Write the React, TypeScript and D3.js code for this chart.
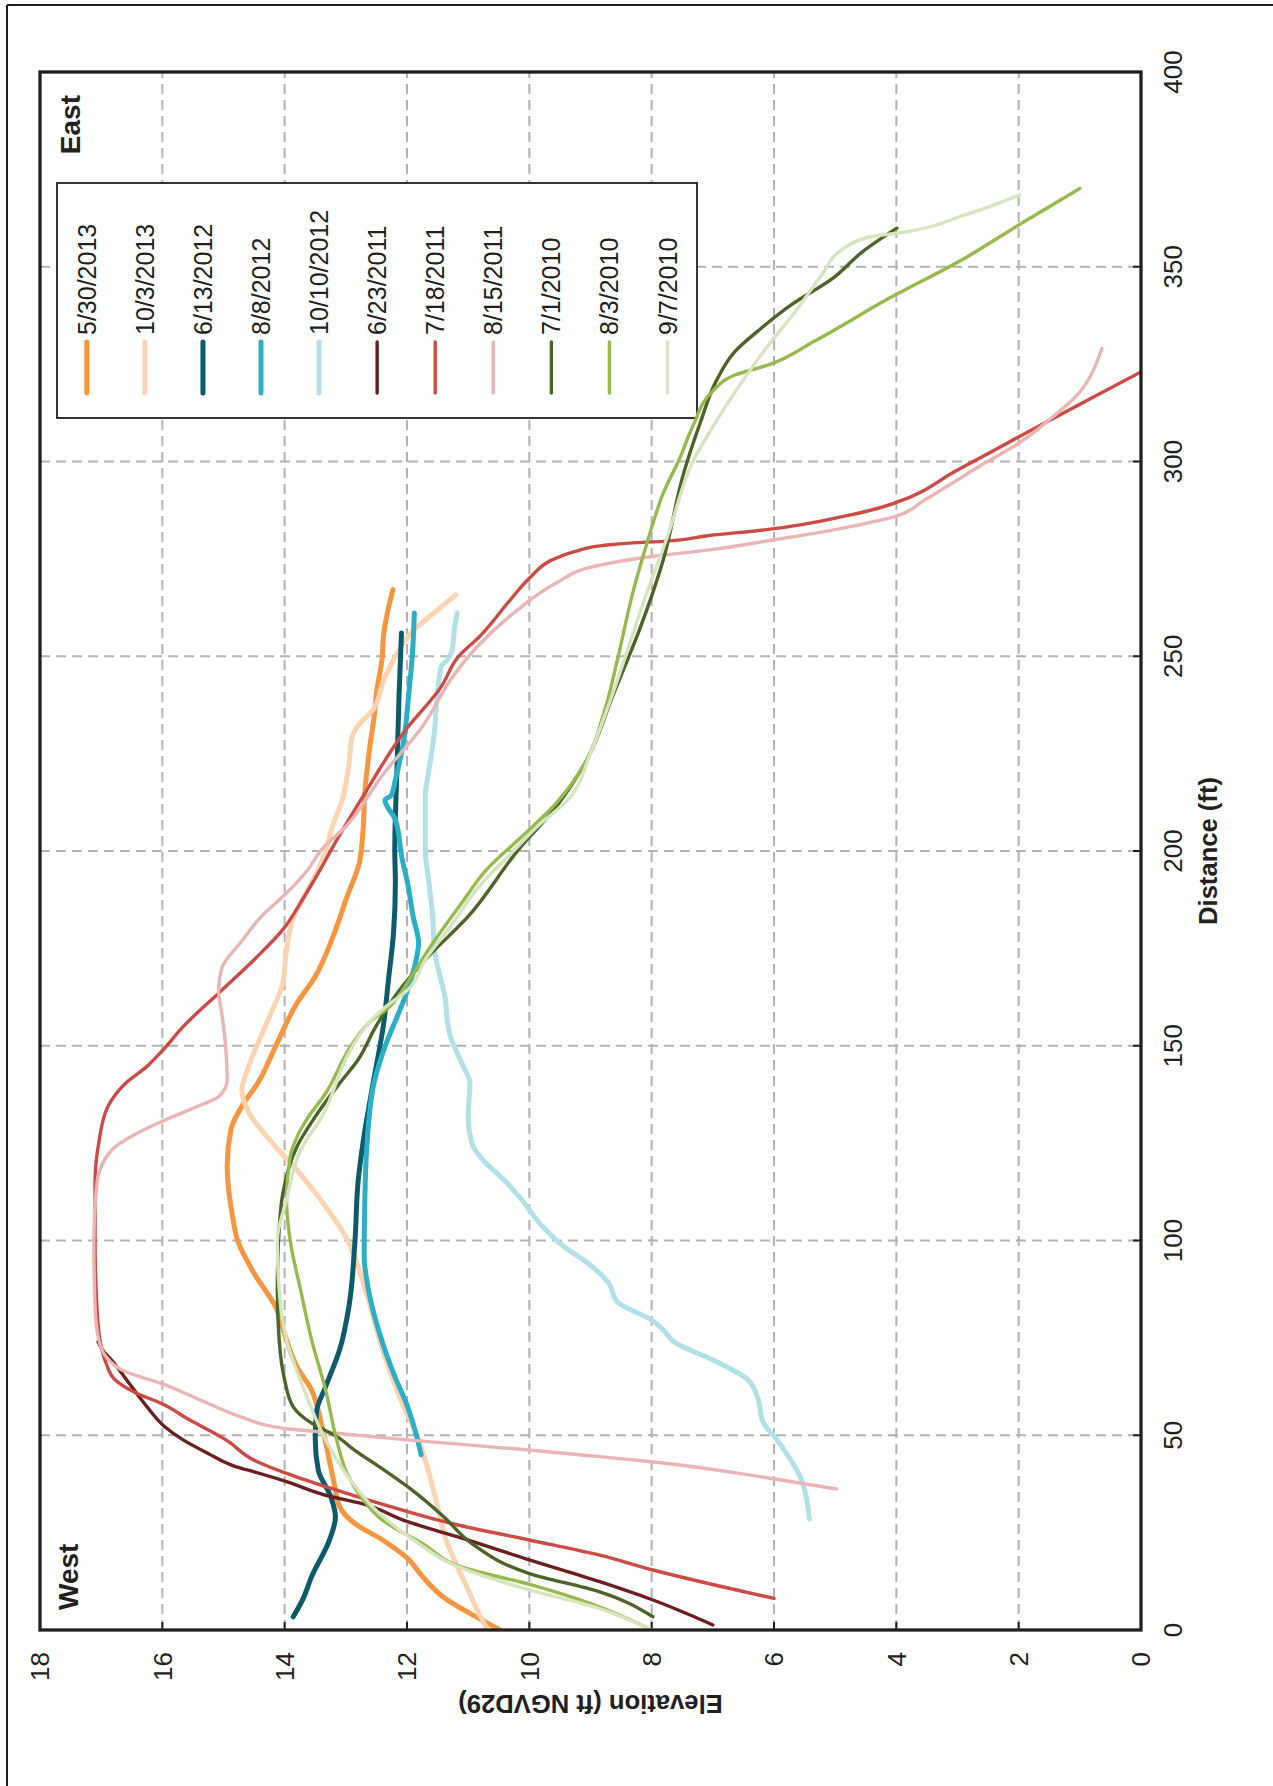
import React from 'react';
import * as d3 from 'd3';

type Pt = [number, number]; // [distance ft, elevation ft]

const distanceTicks = [0, 50, 100, 150, 200, 250, 300, 350, 400];
const elevationTicks = [0, 2, 4, 6, 8, 10, 12, 14, 16, 18];

const seriesLabels = ['5/30/2013', '10/3/2013', '6/13/2012', '8/8/2012', '10/10/2012', '6/23/2011', '7/18/2011', '8/15/2011', '7/1/2010', '8/3/2010', '9/7/2010'];
const seriesColors = ['#F7963F', '#FDD3B1', '#0B5B6B', '#2BAFC9', '#B1E0E8', '#6B1F1F', '#CC4B45', '#EBB5B3', '#4B6428', '#95BB4E', '#D5E5BD'];
const seriesWidths = [5, 5, 5, 5, 5, 3.4, 3.4, 3.4, 3.4, 3.4, 3.4];

const s20130530: Pt[] = [[0, 10.48], [3.8, 10.92], [8.5, 11.41], [13.6, 11.74], [18.5, 12.0], [23.1, 12.4], [27.4, 12.86], [31.6, 13.1], [36.8, 13.18], [43.6, 13.27], [52.2, 13.39], [61.6, 13.56], [67.6, 13.8], [74.5, 13.97], [83, 14.15], [91.6, 14.5], [100, 14.77], [106, 14.85], [119, 14.94], [128.4, 14.88], [135.2, 14.67], [140.4, 14.44], [149.8, 14.15], [160.9, 13.8], [167.8, 13.5], [178, 13.21], [188.3, 12.98], [196.9, 12.78], [205, 12.72], [214.8, 12.69], [227.7, 12.6], [235.4, 12.53], [240.5, 12.5], [249.1, 12.41], [255.9, 12.38], [261.9, 12.31], [267.1, 12.23]];
const s20131003: Pt[] = [[0, 10.68], [5, 10.85], [10.3, 11.0], [17, 11.2], [24, 11.38], [31.6, 11.5], [40.2, 11.64], [48.8, 11.81], [59, 12.1], [71.9, 12.4], [84.7, 12.63], [95.9, 12.86], [100, 12.97], [108.7, 13.33], [118.1, 13.8], [125, 14.2], [132.7, 14.58], [138.7, 14.7], [143.8, 14.61], [150.6, 14.44], [159.2, 14.2], [166, 14.03], [174.6, 13.97], [183.2, 13.85], [190, 13.62], [198.6, 13.36], [206.3, 13.22], [213.1, 13.06], [223.4, 12.94], [228.5, 12.91], [232, 12.81], [236.2, 12.56], [243.9, 12.38], [249.9, 12.19], [255.9, 11.94], [260.2, 11.63], [265.8, 11.2]];
const s20120613: Pt[] = [[3.4, 13.86], [8, 13.7], [13.7, 13.56], [23, 13.27], [29, 13.17], [34, 13.24], [41, 13.45], [49, 13.5], [56, 13.48], [62.5, 13.33], [72, 13.1], [83, 12.95], [100, 12.85], [115, 12.8], [125, 12.72], [139, 12.57], [157, 12.37], [166, 12.31], [179, 12.22], [192, 12.19], [200, 12.2], [223, 12.16], [240, 12.13], [256, 12.09]];
const s20120808: Pt[] = [[45, 11.77], [49.6, 11.84], [57.3, 11.99], [65.9, 12.22], [76.2, 12.45], [87.3, 12.63], [96, 12.7], [110, 12.69], [123.2, 12.66], [140.4, 12.54], [150.6, 12.34], [157.5, 12.16], [164.3, 11.99], [172.9, 11.84], [176.3, 11.81], [183.2, 11.9], [191.7, 11.99], [198, 12.08], [208, 12.19], [213.1, 12.36], [214.2, 12.26], [218.3, 12.19], [227.7, 12.06], [240.5, 11.97], [250.8, 11.91], [261.1, 11.88]];
const s20121010: Pt[] = [[28.5, 5.42], [38.5, 5.55], [49, 5.96], [53.4, 6.18], [59.8, 6.27], [64.3, 6.43], [69.4, 7.01], [73.9, 7.63], [77.1, 7.81], [79.6, 8.0], [84.1, 8.55], [89.2, 8.71], [94.3, 9.05], [98, 9.4], [104.4, 9.83], [110.4, 10.12], [115.5, 10.41], [120.7, 10.76], [125, 10.94], [131.8, 11.0], [140.4, 10.97], [144.7, 11.08], [152.4, 11.29], [157.5, 11.35], [161.8, 11.37], [167.8, 11.46], [174.6, 11.55], [183.2, 11.58], [191.7, 11.64], [200, 11.7], [214.8, 11.7], [219, 11.66], [229.4, 11.56], [240.5, 11.5], [247.4, 11.44], [249.1, 11.34], [251.7, 11.26], [257.6, 11.22], [261.1, 11.18]];
const s20110623: Pt[] = [[1.3, 7.0], [7.7, 7.98], [12.4, 8.85], [18, 10.0], [23.1, 11.0], [27.8, 11.99], [32.5, 12.75], [34.6, 13.33], [38.1, 13.97], [40.6, 14.5], [41.9, 14.79], [45.4, 15.26], [48.8, 15.66], [52.2, 15.96], [57.3, 16.25], [63.3, 16.54], [69.3, 16.83], [71.9, 16.98], [74, 17.05]];
const s20110718: Pt[] = [[8.1, 6.0], [15.4, 7.98], [19.2, 8.85], [23.1, 10.0], [27.4, 11.29], [32.5, 12.45], [36.8, 13.33], [40.2, 13.97], [43.6, 14.5], [48.8, 14.96], [53.9, 15.55], [58.2, 16.02], [60.8, 16.42], [64.2, 16.77], [68.5, 16.92], [73.6, 17.01], [83, 17.07], [100, 17.1], [114.7, 17.1], [125, 17.04], [134.4, 16.89], [140.4, 16.6], [144.7, 16.25], [148.9, 15.99], [154.9, 15.66], [163.5, 15.08], [172.1, 14.5], [179.8, 14.03], [188.3, 13.68], [196, 13.39], [200.3, 13.24], [214.8, 12.69], [230.3, 12.06], [242.2, 11.44], [249.9, 11.16], [255.1, 10.81], [264.5, 10.31], [270.5, 9.97], [274.8, 9.62], [276.9, 9.25], [278.4, 8.81], [279.1, 8.31], [279.5, 7.81], [281, 7.06], [282.5, 6.12], [286.3, 4.75], [288, 4.3], [289.5, 4.0], [297.8, 3.0], [307.6, 1.85], [315.3, 0.93], [323, 0]];
const s20110815: Pt[] = [[36.2, 4.98], [38.7, 5.96], [43.2, 8.0], [44.5, 8.85], [46.2, 10.0], [48.8, 11.99], [50.5, 13.15], [51.8, 14.03], [54.8, 14.73], [59, 15.37], [63.3, 16.02], [66.3, 16.6], [70.2, 16.92], [74.5, 17.04], [83, 17.1], [100, 17.12], [114.7, 17.07], [123.2, 16.83], [127.5, 16.42], [130.9, 15.96], [134.4, 15.43], [136.9, 15.08], [141.2, 14.94], [148.9, 14.96], [157.5, 15.02], [164.3, 15.08], [170.3, 15.02], [176.3, 14.73], [183.2, 14.38], [189.2, 13.97], [195.2, 13.62], [200.3, 13.4], [206.3, 13.0], [219.9, 12.38], [231.9, 11.75], [244.8, 11.25], [252.5, 10.85], [261.9, 10.19], [268.8, 9.56], [273.1, 8.93], [275.6, 8.0], [277.3, 7.06], [279.9, 6.0], [282, 5.18], [283.3, 4.75], [286, 4.0], [290, 3.55], [298.8, 2.64], [305.1, 1.96], [311.1, 1.47], [317.1, 1.04], [321.3, 0.85], [329, 0.64]];
const s20100701: Pt[] = [[3.4, 7.98], [9.8, 8.85], [14.5, 10.0], [22.2, 10.94], [29.1, 11.4], [36.8, 11.99], [41.9, 12.45], [46.2, 12.86], [49.7, 13.15], [53.1, 13.56], [57.3, 13.86], [64.2, 14.0], [74.5, 14.09], [87.3, 14.12], [100, 14.1], [112.1, 14.03], [124.1, 13.8], [131.8, 13.5], [140.4, 13.1], [146.4, 12.8], [154.9, 12.51], [163.5, 12.16], [172.1, 11.7], [183.2, 11.0], [200.3, 10.18], [211.4, 9.56], [223.4, 9.06], [240.5, 8.62], [257.6, 8.18], [274.8, 7.81], [297.4, 7.47], [310.2, 7.2], [320.5, 6.95], [328.2, 6.64], [334.2, 6.21], [340.2, 5.72], [347, 5.04], [353.9, 4.55], [359.9, 3.99]];
const s20100803: Pt[] = [[0, 8.0], [6.8, 9.0], [11.5, 9.95], [16.2, 11.11], [22.2, 11.75], [28.2, 12.4], [34.2, 12.75], [40.2, 12.98], [48.8, 13.15], [61.6, 13.33], [74.5, 13.56], [87.3, 13.74], [100, 13.91], [110.4, 13.97], [121.5, 13.91], [130.1, 13.68], [137.8, 13.33], [149.8, 12.92], [155.8, 12.63], [160.1, 12.28], [167.8, 11.93], [176.3, 11.58], [186.6, 11.11], [195.2, 10.7], [204.6, 10.06], [212.3, 9.56], [221.7, 9.12], [237.1, 8.75], [249.1, 8.56], [266.2, 8.31], [279.9, 8.06], [291.9, 7.81], [300.5, 7.55], [309.3, 7.32], [317.9, 7.01], [322.2, 6.64], [324.8, 6.09], [330.8, 5.35], [341.9, 4.12], [352.2, 2.88], [361.1, 1.96], [370.1, 1.0]];
const s20100907: Pt[] = [[0, 8.0], [6, 8.95], [10.3, 10.0], [17.1, 11.29], [22.2, 11.81], [29.9, 12.45], [38.4, 12.92], [48.8, 13.33], [61.6, 13.68], [74.5, 13.97], [87.3, 14.09], [100, 14.12], [110.4, 13.97], [123.2, 13.74], [131.8, 13.39], [149, 12.92], [155.8, 12.63], [160.1, 12.34], [164.3, 11.99], [172.1, 11.7], [180.6, 11.29], [190.9, 10.82], [200.3, 10.24], [206.3, 9.87], [213.1, 9.37], [225.1, 9.0], [235.4, 8.75], [249.9, 8.43], [264.5, 8.12], [280.8, 7.74], [300.5, 7.31], [310.2, 6.95], [320.5, 6.52], [329.9, 6.09], [338.5, 5.65], [347.9, 5.22], [354.7, 4.86], [357.7, 4.42], [358.6, 3.99], [363.3, 2.88], [368.4, 1.99]];

const seriesData: Pt[][] = [s20130530, s20131003, s20120613, s20120808, s20121010, s20110623, s20110718, s20110815, s20100701, s20100803, s20100907];

const FONT = 'Liberation Sans, Arial, Helvetica, sans-serif';
const INK = '#231f20';

export default function App() {
  const W = 1273;
  const H = 1786;
  const left = 40, top = 72, right = 1141, bottom = 1630;
  const PW = bottom - top; // distance axis length (virtual width)
  const PH = right - left; // elevation axis length (virtual height)

  const x = d3.scaleLinear().domain([0, 400]).range([0, PW]);
  const y = d3.scaleLinear().domain([0, 18]).range([PH, 0]);
  const line = d3.line<Pt>().x((d) => x(d[0])).y((d) => y(d[1])).curve(d3.curveMonotoneX);

  const legX = 1212, legY = 17, legW = 235, legH = 640;
  const legRow0 = 46.8, legStep = 58.07;

  return (
    <svg width={W} height={H} viewBox={`0 0 ${W} ${H}`} style={{ position: 'absolute', left: 0, top: 0, display: 'block', background: '#fff' }} fontFamily={FONT}>
      <rect x={0} y={0} width={W} height={H} fill="#fff" />
      {/* page frame */}
      <line x1={7} y1={5} x2={W} y2={5} stroke={INK} strokeWidth={2} />
      <line x1={7} y1={5} x2={7} y2={H} stroke={INK} strokeWidth={2} />
      <defs>
        <clipPath id="plotClip">
          <rect x={0} y={0} width={PW} height={PH} />
        </clipPath>
      </defs>
      <g transform={`translate(${left},${bottom}) rotate(-90)`}>
        {/* grid */}
        {distanceTicks.filter((t) => t > 0 && t < 400).map((t) => (
          <line key={'gx' + t} x1={x(t)} x2={x(t)} y1={0} y2={PH} stroke="#b3b3b3" strokeWidth={2} strokeDasharray="10,6" />
        ))}
        {elevationTicks.filter((t) => t > 0 && t < 18).map((t) => (
          <line key={'gy' + t} x1={0} x2={PW} y1={y(t)} y2={y(t)} stroke="#b3b3b3" strokeWidth={2} strokeDasharray="10,6" />
        ))}
        {/* legend box (covers grid) */}
        <rect x={legX} y={legY} width={legW} height={legH} fill="#fff" stroke={INK} strokeWidth={1.8} />
        {/* ticks */}
        {distanceTicks.map((t) => (
          <line key={'tx' + t} x1={x(t)} x2={x(t)} y1={PH} y2={PH - 8} stroke={INK} strokeWidth={2} />
        ))}
        {elevationTicks.map((t) => (
          <line key={'ty' + t} x1={0} x2={8} y1={y(t)} y2={y(t)} stroke={INK} strokeWidth={2} />
        ))}
        {/* series */}
        <g clipPath="url(#plotClip)">
          {seriesData.map((pts, i) => (
            <path key={seriesLabels[i]} d={line(pts) || ''} fill="none" stroke={seriesColors[i]} strokeWidth={seriesWidths[i]} strokeLinecap="round" strokeLinejoin="round" />
          ))}
        </g>
        {/* legend items */}
        {seriesLabels.map((lab, i) => {
          const yy = legRow0 + i * legStep;
          return (
            <g key={'leg' + lab}>
              <line x1={1237} x2={1288} y1={yy} y2={yy} stroke={seriesColors[i]} strokeWidth={seriesWidths[i]} strokeLinecap="round" />
              <text x={1295} y={yy} dy="0.36em" fontSize={25} fill={INK}>{lab}</text>
            </g>
          );
        })}
        {/* frame */}
        <rect x={0} y={0} width={PW} height={PH} fill="none" stroke={INK} strokeWidth={3.3} />
        {/* tick labels */}
        {distanceTicks.map((t) => (
          <text key={'lx' + t} x={x(t)} y={PH + 41} textAnchor="middle" fontSize={26} fill={INK}>{t}</text>
        ))}
        {elevationTicks.map((t) => (
          <text key={'ly' + t} x={-22} y={y(t)} dy="0.36em" textAnchor="end" fontSize={26} fill={INK}>{t}</text>
        ))}
        {/* titles */}
        <text x={PW / 2} y={PH + 76} textAnchor="middle" fontSize={25.6} fontWeight="bold" fill={INK}>Distance (ft)</text>
        <text transform={`translate(-65,${PH / 2}) rotate(-90)`} textAnchor="middle" fontSize={25.6} fontWeight="bold" fill={INK}>Elevation (ft NGVD29)</text>
        <text x={20} y={38} fontSize={28} fontWeight="bold" fill={INK}>West</text>
        <text x={PW - 23} y={40} textAnchor="end" fontSize={28} fontWeight="bold" fill={INK}>East</text>
      </g>
    </svg>
  );
}
